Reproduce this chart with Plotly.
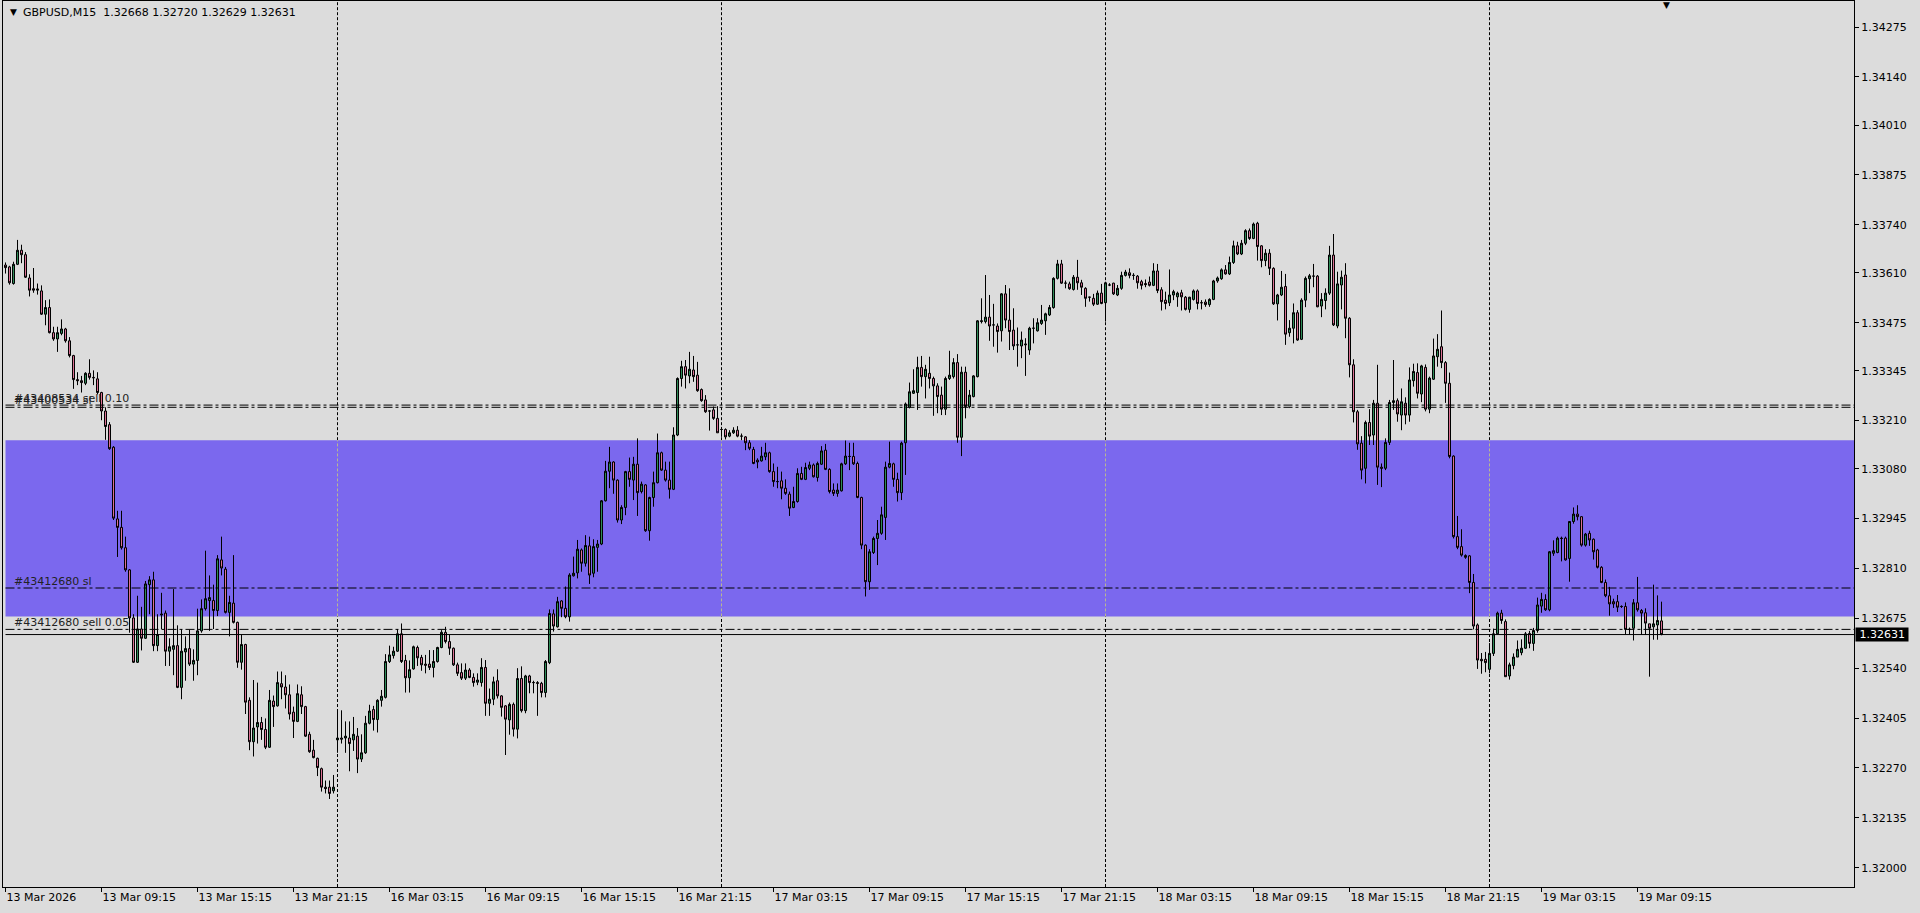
import pandas as pd
import plotly.graph_objects as go

# GBPUSD M15, prices stored as points above 1.32000 (1 pt = 0.00001)
BASE = 1.32000
PT = 0.00001

open_pts = [
    1631, 1626, 1581, 1633, 1671, 1659, 1596, 1567, 1563, 1561,
    1498, 1516, 1448, 1431, 1446, 1458, 1426, 1386, 1321, 1318,
    1311, 1338, 1327, 1323, 1286, 1236, 1199, 1138, 944, 921,
    866, 806, 676, 556, 646, 621, 766, 779, 601, 684,
    689, 586, 591, 601, 488, 584, 593, 551, 561, 641,
    701, 723, 723, 696, 833, 808, 691, 716, 664, 556,
    604, 453, 341, 381, 393, 374, 326, 451, 438, 498,
    489, 468, 421, 396, 468, 436, 361, 318, 296, 268,
    218, 218, 208, 346, 351, 351, 351, 346, 356, 294,
    311, 391, 428, 401, 453, 461, 558, 574, 586, 633,
    561, 514, 538, 596, 569, 551, 551, 542, 558, 596,
    637, 612, 594, 549, 528, 513, 535, 515, 502, 501,
    542, 445, 456, 506, 465, 438, 400, 442, 375, 512,
    425, 519, 501, 501, 499, 474, 555, 687, 652, 722,
    702, 679, 790, 798, 860, 824, 871, 797, 867, 876,
    993, 1073, 1098, 1049, 941, 975, 1072, 1049, 1092, 1018,
    1036, 912, 1002, 1042, 1123, 1076, 1049, 1024, 1171, 1324,
    1356, 1331, 1347, 1333, 1294, 1266, 1236, 1239, 1216, 1186,
    1186, 1168, 1177, 1184, 1168, 1166, 1150, 1132, 1103, 1101,
    1112, 1123, 1072, 1045, 1047, 1027, 1011, 975, 991, 1067,
    1051, 1081, 1090, 1056, 1092, 1130, 1078, 1022, 1013, 1020,
    1093, 1113, 1113, 1094, 1002, 873, 774, 853, 891, 905,
    948, 1084, 1093, 1051, 1015, 1150, 1246, 1284, 1286, 1354,
    1329, 1338, 1324, 1304, 1279, 1241, 1324, 1329, 1367, 1165,
    1341, 1248, 1275, 1329, 1478, 1478, 1490, 1469, 1466, 1453,
    1553, 1482, 1455, 1415, 1412, 1415, 1401, 1460, 1453, 1473,
    1480, 1496, 1516, 1595, 1634, 1582, 1580, 1565, 1598, 1583,
    1568, 1544, 1541, 1525, 1555, 1529, 1577, 1582, 1550, 1568,
    1603, 1610, 1603, 1601, 1586, 1581, 1585, 1576, 1615, 1564,
    1536, 1529, 1550, 1545, 1556, 1544, 1511, 1538, 1561, 1529,
    1531, 1524, 1538, 1588, 1594, 1618, 1607, 1638, 1683, 1661,
    1690, 1724, 1703, 1744, 1683, 1643, 1663, 1622, 1526, 1550,
    1573, 1448, 1460, 1502, 1430, 1536, 1594, 1601, 1601, 1520,
    1535, 1555, 1658, 1466, 1577, 1604, 1487, 1361, 1234, 1149,
    1081, 1205, 1171, 1257, 1084, 1081, 1151, 1259, 1264, 1225,
    1257, 1225, 1318, 1340, 1282, 1354, 1241, 1322, 1383, 1410,
    1367, 1311, 1114, 896, 869, 845, 844, 772, 657, 564,
    564, 537, 580, 633, 689, 666, 519, 547, 570, 582,
    594, 634, 607, 642, 708, 726, 698, 851, 853, 892,
    892, 837, 937, 957, 950, 873, 905, 889, 860, 813,
    772, 736, 720, 720, 707, 707, 645, 648, 717, 696,
    690, 660, 652, 657, 668,
]

high_pts = [
    1638, 1629, 1640, 1699, 1686, 1666, 1606, 1623, 1581, 1576,
    1536, 1538, 1464, 1464, 1484, 1461, 1436, 1388, 1341, 1331,
    1341, 1376, 1346, 1341, 1288, 1246, 1206, 1141, 966, 966,
    896, 808, 686, 736, 706, 776, 789, 801, 686, 744,
    696, 621, 754, 656, 646, 626, 644, 591, 701, 726,
    858, 791, 766, 846, 896, 814, 736, 846, 666, 631,
    606, 461, 508, 501, 408, 404, 481, 466, 531, 531,
    521, 496, 436, 496, 491, 438, 368, 346, 298, 271,
    236, 236, 251, 426, 426, 396, 396, 408, 378, 361,
    411, 441, 438, 456, 481, 578, 601, 598, 646, 661,
    576, 561, 601, 601, 576, 576, 589, 589, 598, 643,
    652, 630, 596, 555, 553, 553, 540, 526, 526, 567,
    562, 485, 517, 537, 467, 440, 447, 447, 540, 545,
    522, 522, 506, 505, 503, 562, 699, 699, 733, 724,
    761, 797, 842, 887, 864, 900, 896, 889, 887, 995,
    1101, 1139, 1100, 1051, 981, 1074, 1110, 1112, 1162, 1045,
    1038, 1004, 1072, 1175, 1126, 1099, 1099, 1192, 1327, 1372,
    1374, 1396, 1385, 1369, 1297, 1279, 1238, 1248, 1249, 1193,
    1189, 1184, 1192, 1195, 1175, 1168, 1157, 1139, 1108, 1139,
    1150, 1126, 1094, 1085, 1072, 1051, 1018, 1031, 1081, 1085,
    1096, 1099, 1094, 1099, 1141, 1147, 1081, 1040, 1040, 1096,
    1156, 1150, 1150, 1099, 1004, 875, 862, 896, 941, 977,
    1099, 1153, 1096, 1069, 1153, 1259, 1313, 1349, 1383, 1385,
    1361, 1383, 1329, 1311, 1302, 1329, 1399, 1379, 1390, 1356,
    1356, 1293, 1333, 1482, 1541, 1604, 1550, 1526, 1473, 1555,
    1577, 1568, 1514, 1462, 1451, 1433, 1464, 1487, 1487, 1523,
    1502, 1523, 1598, 1645, 1645, 1589, 1586, 1604, 1645, 1591,
    1571, 1545, 1553, 1562, 1580, 1586, 1582, 1583, 1577, 1613,
    1618, 1622, 1609, 1604, 1591, 1592, 1600, 1636, 1634, 1571,
    1559, 1619, 1564, 1559, 1564, 1547, 1545, 1565, 1565, 1536,
    1538, 1541, 1591, 1600, 1622, 1631, 1654, 1697, 1694, 1699,
    1728, 1730, 1746, 1748, 1685, 1674, 1674, 1625, 1553, 1615,
    1607, 1482, 1527, 1509, 1541, 1600, 1607, 1634, 1604, 1555,
    1568, 1683, 1715, 1613, 1616, 1636, 1490, 1376, 1239, 1168,
    1210, 1241, 1266, 1361, 1094, 1162, 1266, 1374, 1270, 1297,
    1273, 1354, 1364, 1365, 1361, 1362, 1329, 1432, 1444, 1508,
    1371, 1340, 1116, 952, 916, 848, 846, 795, 661, 581,
    584, 608, 647, 693, 698, 672, 555, 580, 615, 618,
    638, 641, 649, 731, 744, 740, 857, 886, 896, 896,
    896, 938, 975, 981, 951, 906, 912, 891, 863, 816,
    780, 760, 728, 738, 710, 718, 650, 727, 787, 700,
    702, 660, 766, 737, 720,
]

low_pts = [
    1608, 1578, 1578, 1631, 1636, 1596, 1546, 1556, 1551, 1496,
    1468, 1446, 1426, 1396, 1441, 1421, 1381, 1296, 1306, 1286,
    1306, 1321, 1306, 1281, 1211, 1158, 1131, 941, 841, 861,
    801, 636, 554, 554, 588, 619, 686, 586, 586, 646,
    546, 546, 521, 486, 456, 506, 546, 506, 521, 636,
    696, 641, 646, 681, 791, 688, 626, 661, 541, 536,
    416, 318, 301, 336, 346, 321, 324, 381, 436, 456,
    431, 401, 351, 394, 416, 354, 311, 296, 248, 206,
    201, 186, 201, 311, 336, 311, 261, 316, 256, 286,
    308, 388, 371, 366, 436, 458, 554, 566, 584, 554,
    474, 474, 536, 546, 533, 526, 535, 515, 555, 594,
    607, 576, 546, 519, 508, 508, 513, 490, 494, 490,
    411, 411, 440, 458, 409, 305, 360, 355, 350, 420,
    418, 472, 472, 411, 461, 461, 551, 639, 650, 678,
    675, 666, 788, 783, 801, 815, 768, 786, 801, 873,
    991, 1027, 1012, 934, 930, 954, 1031, 995, 952, 1013,
    909, 885, 977, 1040, 1074, 1045, 999, 1022, 1168, 1302,
    1297, 1311, 1315, 1288, 1261, 1231, 1183, 1212, 1177, 1166,
    1159, 1165, 1174, 1165, 1157, 1130, 1130, 1092, 1081, 1099,
    1103, 1069, 1031, 1027, 997, 1009, 952, 973, 988, 1049,
    1049, 1076, 1056, 1045, 1090, 1076, 1013, 1006, 1004, 1018,
    1090, 1076, 1090, 1000, 862, 734, 752, 849, 819, 901,
    887, 1081, 1031, 991, 995, 1063, 1243, 1282, 1239, 1302,
    1270, 1297, 1223, 1230, 1225, 1225, 1320, 1324, 1150, 1114,
    1216, 1243, 1273, 1327, 1473, 1473, 1426, 1410, 1394, 1424,
    1460, 1401, 1401, 1356, 1379, 1331, 1388, 1419, 1451, 1469,
    1442, 1493, 1513, 1592, 1580, 1568, 1564, 1562, 1564, 1550,
    1518, 1532, 1520, 1523, 1525, 1478, 1574, 1550, 1547, 1564,
    1600, 1595, 1591, 1567, 1565, 1571, 1573, 1574, 1555, 1508,
    1511, 1520, 1536, 1518, 1508, 1508, 1502, 1535, 1511, 1511,
    1518, 1518, 1536, 1583, 1591, 1605, 1604, 1634, 1658, 1658,
    1685, 1699, 1701, 1643, 1625, 1628, 1604, 1523, 1481, 1547,
    1415, 1437, 1419, 1426, 1428, 1517, 1555, 1571, 1517, 1490,
    1511, 1550, 1466, 1460, 1511, 1433, 1327, 1205, 1131, 1051,
    1040, 1144, 1144, 1036, 1030, 1076, 1144, 1239, 1207, 1184,
    1200, 1207, 1302, 1270, 1260, 1235, 1230, 1320, 1356, 1352,
    1258, 1108, 891, 862, 842, 836, 743, 645, 538, 525,
    529, 526, 573, 631, 660, 517, 509, 537, 570, 575,
    592, 594, 587, 636, 690, 695, 694, 844, 851, 829,
    831, 774, 931, 940, 869, 869, 871, 834, 810, 770,
    732, 682, 703, 692, 703, 631, 630, 615, 693, 630,
    630, 517, 617, 617, 629,
]

close_pts = [
    1624, 1583, 1633, 1671, 1659, 1598, 1563, 1563, 1566, 1498,
    1516, 1448, 1431, 1448, 1458, 1426, 1386, 1321, 1318, 1313,
    1338, 1327, 1326, 1286, 1236, 1194, 1134, 946, 921, 866,
    806, 676, 556, 646, 621, 768, 779, 601, 631, 686,
    586, 598, 601, 488, 586, 593, 551, 561, 641, 701,
    728, 731, 696, 836, 811, 691, 718, 664, 556, 604,
    448, 341, 378, 393, 374, 326, 453, 436, 501, 489,
    468, 416, 396, 471, 436, 356, 314, 298, 271, 218,
    214, 201, 218, 351, 348, 356, 336, 361, 294, 311,
    391, 424, 401, 453, 464, 558, 576, 586, 633, 558,
    514, 536, 598, 568, 549, 548, 542, 558, 596, 637,
    612, 594, 549, 526, 513, 535, 515, 501, 508, 542,
    445, 456, 503, 465, 434, 402, 442, 375, 512, 425,
    519, 501, 501, 499, 474, 558, 688, 654, 720, 702,
    679, 792, 797, 862, 824, 872, 792, 869, 876, 993,
    1073, 1098, 1049, 941, 975, 1072, 1051, 1092, 1015, 1038,
    912, 1002, 1042, 1123, 1076, 1049, 1024, 1171, 1324, 1356,
    1333, 1349, 1329, 1291, 1264, 1234, 1236, 1216, 1177, 1186,
    1166, 1177, 1184, 1168, 1168, 1150, 1135, 1094, 1098, 1114,
    1123, 1072, 1045, 1045, 1027, 1013, 973, 991, 1067, 1051,
    1083, 1090, 1058, 1094, 1128, 1078, 1018, 1013, 1022, 1093,
    1114, 1113, 1093, 1002, 873, 774, 855, 891, 905, 955,
    1084, 1094, 1051, 1015, 1149, 1255, 1288, 1291, 1354, 1329,
    1349, 1324, 1304, 1275, 1241, 1324, 1333, 1367, 1165, 1341,
    1248, 1279, 1331, 1480, 1480, 1490, 1466, 1469, 1451, 1553,
    1482, 1451, 1412, 1415, 1428, 1417, 1460, 1460, 1475, 1482,
    1499, 1516, 1595, 1634, 1582, 1582, 1567, 1598, 1583, 1571,
    1541, 1544, 1525, 1555, 1527, 1583, 1577, 1553, 1568, 1603,
    1612, 1603, 1603, 1583, 1576, 1578, 1576, 1615, 1562, 1532,
    1527, 1550, 1559, 1555, 1545, 1511, 1544, 1561, 1527, 1529,
    1524, 1538, 1588, 1596, 1618, 1607, 1638, 1683, 1661, 1690,
    1724, 1703, 1742, 1681, 1643, 1663, 1622, 1526, 1550, 1571,
    1444, 1460, 1502, 1428, 1536, 1595, 1602, 1601, 1518, 1538,
    1555, 1658, 1469, 1580, 1598, 1487, 1361, 1234, 1147, 1076,
    1205, 1168, 1257, 1084, 1081, 1151, 1259, 1264, 1228, 1261,
    1225, 1320, 1343, 1284, 1358, 1241, 1325, 1385, 1403, 1367,
    1311, 1113, 896, 867, 846, 840, 772, 654, 562, 560,
    555, 580, 633, 689, 669, 517, 549, 570, 591, 594,
    633, 607, 642, 711, 726, 698, 855, 858, 892, 891,
    833, 937, 957, 950, 873, 903, 887, 855, 813, 772,
    736, 714, 714, 705, 707, 645, 645, 717, 698, 689,
    662, 648, 660, 669, 631,
]

x_tick_labels = [
    "13 Mar 2026", "13 Mar 09:15", "13 Mar 15:15", "13 Mar 21:15",
    "16 Mar 03:15", "16 Mar 09:15", "16 Mar 15:15", "16 Mar 21:15",
    "17 Mar 03:15", "17 Mar 09:15", "17 Mar 15:15", "17 Mar 21:15",
    "18 Mar 03:15", "18 Mar 09:15", "18 Mar 15:15", "18 Mar 21:15",
    "19 Mar 03:15", "19 Mar 09:15",
]
y_tick_values = [
    1.34275, 1.34140, 1.34010, 1.33875, 1.33740, 1.33610, 1.33475, 1.33345,
    1.33210, 1.33080, 1.32945, 1.32810, 1.32675, 1.32540, 1.32405, 1.32270,
    1.32135, 1.32000,
]

zone_low, zone_high = 1.32680, 1.33157
order_lines = [
    (1.33252, "#43408534 sell 0.10"),
    (1.33246, "#43400534 sl"),
    (1.32757, "#43412680 sl"),
    (1.32645, "#43412680 sell 0.05"),
]
bid = 1.32631
header = "GBPUSD,M15\u00a0\u00a01.32668 1.32720 1.32629 1.32631"

BG = "#DCDCDC"
BULL = "#2E8B57"
BEAR = "#DB7093"
ZONE = "#7B68EE"
FONT = dict(family="DejaVu Sans", size=11, color="black")


def to_price(pts):
    return [round(BASE + p * PT, 5) for p in pts]


n = len(open_pts)
bars = list(range(n))

# bar times: friday session from 03:15, then monday onward
fri = pd.date_range("2026-03-13 03:15", "2026-03-13 23:45", freq="15min")
rest = pd.date_range("2026-03-16 00:00", periods=n - len(fri), freq="15min")
times = fri.append(rest)
day_starts = [i for i in range(1, n) if times[i].date() != times[i - 1].date()]
tick_bars = [i * 24 for i in range(len(x_tick_labels))]

# 4 px per bar, bar centres on half pixels so wicks stay crisp
x_lo, x_hi = -0.625, 462.125
y_lo, y_hi = 1.319478, 1.343456

fig = go.Figure()
fig.add_trace(
    go.Candlestick(
        x=bars,
        open=to_price(open_pts),
        high=to_price(high_pts),
        low=to_price(low_pts),
        close=to_price(close_pts),
        increasing=dict(fillcolor=BULL, line=dict(color="black", width=1)),
        decreasing=dict(fillcolor=BEAR, line=dict(color="black", width=1)),
        whiskerwidth=0,
        hoverinfo="skip",
    )
)

sep_dash = "3px,2px"
order_dash = "9px,3px,3px,3px"
shapes = [
    dict(type="rect", xref="x", yref="y", x0=0, x1=x_hi, y0=zone_low, y1=zone_high,
         fillcolor=ZONE, line=dict(width=0), layer="below"),
    # window frame stripe at the far left
    dict(type="line", xref="paper", yref="paper", x0=-0.0019, x1=-0.0019, y0=-0.03, y1=1,
         line=dict(color="#A0A0A0", width=1)),
]
for b in day_starts:
    shapes.append(dict(type="line", xref="x", yref="y", x0=b, x1=b, y0=zone_high, y1=y_hi,
                       line=dict(color="black", width=1, dash=sep_dash), layer="below"))
    shapes.append(dict(type="line", xref="x", yref="y", x0=b, x1=b, y0=y_lo, y1=zone_low,
                       line=dict(color="black", width=1, dash=sep_dash), layer="below"))
    shapes.append(dict(type="line", xref="x", yref="y", x0=b, x1=b, y0=zone_low, y1=zone_high,
                       line=dict(color="#B8B890", width=1, dash=sep_dash), layer="below"))
for price, _ in order_lines:
    shapes.append(dict(type="line", xref="x", yref="y", x0=0, x1=x_hi, y0=price, y1=price,
                       line=dict(color="black", width=1, dash=order_dash)))
shapes.append(dict(type="line", xref="x", yref="y", x0=0, x1=x_hi, y0=bid, y1=bid,
                   line=dict(color="black", width=1)))

annotations = []
for price, label in order_lines:
    annotations.append(dict(
        x=1.6, y=price, xref="x", yref="y", text=label, showarrow=False,
        xanchor="left", yanchor="middle", yshift=7,
        font=dict(family="DejaVu Sans", size=11, color="#222222"),
    ))
annotations.append(dict(
    x=0, y=1, xref="paper", yref="paper", text=header, showarrow=False,
    xanchor="left", yanchor="top", xshift=18, yshift=-3, font=FONT,
))
annotations.append(dict(
    x=0, y=1, xref="paper", yref="paper", text="\u25bc", showarrow=False,
    xanchor="left", yanchor="top", xshift=5, yshift=-4,
    font=dict(family="DejaVu Sans", size=9, color="black"),
))
annotations.append(dict(
    x=415.25, y=1, xref="x", yref="paper", text="\u25bc", showarrow=False,
    xanchor="center", yanchor="top", yshift=3,
    font=dict(family="DejaVu Sans", size=9, color="black"),
))
annotations.append(dict(
    x=1, y=bid, xref="paper", yref="y", text=f"\u00a0{bid:.5f}\u00a0", showarrow=False,
    xanchor="left", yanchor="middle", xshift=1, bgcolor="black", borderpad=0,
    font=dict(family="DejaVu Sans", size=11, color="white"),
))

fig.update_layout(
    width=1920,
    height=913,
    paper_bgcolor=BG,
    plot_bgcolor=BG,
    font=FONT,
    showlegend=False,
    boxgap=0.5,
    boxgroupgap=0,
    margin=dict(l=3, r=66, t=1, b=26),
    shapes=shapes,
    annotations=annotations,
    xaxis=dict(
        range=[x_lo, x_hi],
        rangeslider=dict(visible=False),
        tickvals=tick_bars,
        ticktext=x_tick_labels,
        ticks="outside",
        ticklen=4,
        tickcolor="black",
        ticklabelposition="outside right",
        showgrid=False,
        zeroline=False,
        showline=True,
        linecolor="black",
        linewidth=1,
        mirror=True,
    ),
    yaxis=dict(
        side="right",
        range=[y_lo, y_hi],
        tickvals=y_tick_values,
        ticktext=[f"{v:.5f}" for v in y_tick_values],
        ticks="outside",
        ticklen=4,
        tickcolor="black",
        showgrid=False,
        zeroline=False,
        showline=True,
        linecolor="black",
        linewidth=1,
        mirror=True,
    ),
)

fig.write_html(
    "out.html",
    config={"displayModeBar": False},
    post_script="document.body.style.margin='0';document.body.style.overflow='hidden';",
)
